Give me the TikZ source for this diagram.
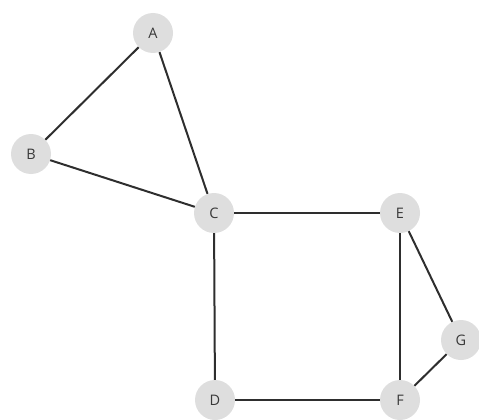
\documentclass[tikz,border=0pt]{standalone}
\usepackage{fontspec}
\setmainfont{Open Sans}
\begin{document}
\begin{tikzpicture}[x=1pt,y=-1pt,
  vtx/.style={circle,fill=black!13,minimum size=40pt,inner sep=0pt,text=black!78,font=\fontsize{14.5}{14.5}\selectfont},
  edge/.style={draw=black!82,line width=2pt}]
\useasboundingbox (0,0) rectangle (479,420);
\node[vtx] (A) at (153,33) {A};
\node[vtx] (B) at (31,154) {B};
\node[vtx] (C) at (214,213) {C};
\node[vtx] (E) at (400,213) {E};
\node[vtx] (G) at (461,340) {G};
\node[vtx] (D) at (215,400) {D};
\node[vtx] (F) at (400,400) {F};
\draw[edge] (A) -- (B);
\draw[edge] (A) -- (C);
\draw[edge] (B) -- (C);
\draw[edge] (C) -- (E);
\draw[edge] (C) -- (D);
\draw[edge] (D) -- (F);
\draw[edge] (E) -- (F);
\draw[edge] (E) -- (G);
\draw[edge] (F) -- (G);
\end{tikzpicture}
\end{document}
